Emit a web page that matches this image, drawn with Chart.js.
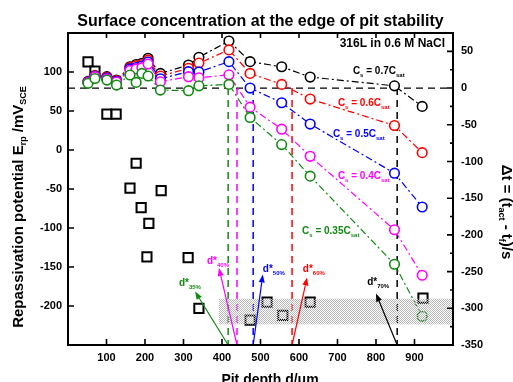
<!DOCTYPE html>
<html>
<head>
<meta charset="UTF-8">
<title>Surface concentration at the edge of pit stability</title>
<style>
  body { margin: 0; background: #fff; }
  #box { width: 513px; height: 382px; }
</style>
<script src="https://cdn.jsdelivr.net/npm/chart.js"></script>
</head>
<body>
<div id="box"><canvas id="c"></canvas></div>
<script>
// pit depth d (um) of the circle series
const depth = [52, 70, 101, 126, 161, 177, 192, 208, 240, 313, 340, 418, 473, 555, 629, 848, 920];
// delta t = t_act - t_f (s), one list per surface concentration
const dt035 = [6.4, 13, 10.9, 4.1, 17.8, 7.7, 20, 16.4, -2.7, -3.6, 3, 5, -40, -77, -120, -240, -311];
const dt040 = [7.5, 15.5, 12.7, 8.2, 24, 26, 27.8, 32.8, 8.6, 15.5, 14, 18, -26, -56, -93, -193, -255];
const dt050 = [8, 16, 13.7, 9.1, 26, 28, 30, 35.5, 12.7, 22.3, 22, 36, 0, -20, -49, -116, -162];
const dt060 = [8.5, 16.5, 14.6, 10, 27.8, 30.5, 32, 38, 16.4, 26.9, 34, 52, 20, 5, -15, -51, -88];
const dt070 = [9, 17, 15.5, 10.9, 29, 32, 33.7, 40.5, 20, 31.4, 42, 64, 36, 29, 15, 3, -25];

// repassivation potential E_rp (mV SCE), squares
const erpDepth = [52, 70, 101, 125, 161, 177, 190, 205, 210, 242, 312, 340, 473, 517, 558, 629, 922];
const erpValue = [113, 101, 46, 46, -49, -17, -74, -137, -94, -52, -138, -203, -218, -195, -212, -195, -190];

// critical depths d* where delta t crosses zero
const dStar = [416, 439, 481, 582, 855];
const pct = ['35%', '40%', '50%', '60%', '70%'];
const csRatio = ['0.35', '0.4', '0.5', '0.6', '0.7'];
const colors = ['#108a10', '#ff00ff', '#0000ff', '#ff0000', '#000000'];

// annotation anchors in data units (d, delta t)
const csPos = [[608, -199], [701, -124], [688, -66], [701, -25], [740, 19]];
const arrowTip = [[330, -277], [392, -245], [506, -254], [621, -258], [800, -280]];
const starPos = [[288, -269], [361, -239], [506, -250], [610, -251], [777, -268]];
const hatchBox = { d0: 392, d1: 1000, t0: -287, t1: -322 };

const xTicks = [0, 100, 200, 300, 400, 500, 600, 700, 800, 900, 1000];
const yTicks = [-250, -200, -150, -100, -50, 0, 50, 100, 150];
const y2Ticks = [-350, -300, -250, -200, -150, -100, -50, 0, 50];

const FONT = '"Liberation Sans", Arial, sans-serif';
const series = [dt035, dt040, dt050, dt060, dt070];

function rich(ctx, parts, x, y, size, align) {
  let w = 0;
  parts.forEach(([t, s]) => {
    ctx.font = 'bold ' + (s ? Math.round(size * 0.6) : size) + 'px ' + FONT;
    w += ctx.measureText(t).width;
  });
  let cx = align === 'center' ? x - w / 2 : x;
  parts.forEach(([t, s]) => {
    ctx.font = 'bold ' + (s ? Math.round(size * 0.6) : size) + 'px ' + FONT;
    ctx.fillText(t, cx, y + (s ? size * 0.3 : 0));
    cx += ctx.measureText(t).width;
  });
}

function arrow(ctx, x1, y1, x2, y2, color) {
  ctx.strokeStyle = color; ctx.fillStyle = color; ctx.lineWidth = 1.2; ctx.setLineDash([]);
  const ang = Math.atan2(y2 - y1, x2 - x1);
  const hl = 8, hw = 3;
  const bx = x2 - hl * Math.cos(ang), by = y2 - hl * Math.sin(ang);
  ctx.beginPath(); ctx.moveTo(x1, y1); ctx.lineTo(bx, by); ctx.stroke();
  ctx.beginPath(); ctx.moveTo(x2, y2);
  ctx.lineTo(bx + hw * Math.sin(ang), by - hw * Math.cos(ang));
  ctx.lineTo(bx - hw * Math.sin(ang), by + hw * Math.cos(ang));
  ctx.closePath(); ctx.fill();
}

// checker for the shaded band: half the pixels grey, half left see-through
const pc = document.createElement('canvas');
pc.width = 2; pc.height = 2;
const pctx = pc.getContext('2d');
pctx.fillStyle = '#b8b8b8';
pctx.fillRect(0, 0, 1, 1); pctx.fillRect(1, 1, 1, 1);

const extras = {
  id: 'extras',
  afterDatasetsDraw(chart) {
    const { ctx, chartArea: a, scales } = chart;
    const X = v => scales.x.getPixelForValue(v);
    const Y = v => scales.y.getPixelForValue(v);
    const Y2 = v => scales.y2.getPixelForValue(v);
    ctx.save();

    // shaded band, drawn over the marks
    ctx.fillStyle = ctx.createPattern(pc, 'repeat');
    const hx = X(hatchBox.d0), hy = Y2(hatchBox.t0);
    ctx.fillRect(hx, hy, Math.min(X(hatchBox.d1), a.right) - hx, Y2(hatchBox.t1) - hy);

    // arrows and d* labels
    ctx.textAlign = 'left'; ctx.textBaseline = 'alphabetic';
    dStar.forEach((d, i) => {
      arrow(ctx, X(d), a.bottom, X(arrowTip[i][0]), Y2(arrowTip[i][1]), colors[i]);
      ctx.fillStyle = colors[i];
      rich(ctx, [['d*', false], [pct[i], true]], X(starPos[i][0]), Y2(starPos[i][1]), 10, 'left');
    });

    // Cs labels
    csRatio.forEach((r, i) => {
      ctx.fillStyle = colors[i];
      rich(ctx, [['C', false], ['s', true], [' = ' + r + 'C', false], ['sat', true]],
        X(csPos[i][0]), Y2(csPos[i][1]), 10, 'left');
    });

    // frame
    ctx.strokeStyle = '#000'; ctx.lineWidth = 2; ctx.setLineDash([]);
    ctx.strokeRect(a.left, a.top, a.right - a.left, a.bottom - a.top);
    ctx.lineWidth = 1.6;
    ctx.beginPath();
    xTicks.slice(1, -1).forEach(v => {
      ctx.moveTo(X(v), a.bottom); ctx.lineTo(X(v), a.bottom - 6);
      ctx.moveTo(X(v), a.top); ctx.lineTo(X(v), a.top + 5);
    });
    yTicks.slice(1, -1).forEach(v => { ctx.moveTo(a.left, Y(v)); ctx.lineTo(a.left + 6, Y(v)); });
    y2Ticks.slice(1).forEach(v => { ctx.moveTo(a.right, Y2(v)); ctx.lineTo(a.right - 6, Y2(v)); });
    y2Ticks.forEach(v => { ctx.moveTo(a.right, Y2(v + 25)); ctx.lineTo(a.right - 3, Y2(v + 25)); });
    ctx.stroke();

    // title and axis titles
    ctx.fillStyle = '#000';
    ctx.textAlign = 'center'; ctx.textBaseline = 'middle';
    ctx.font = 'bold 16px ' + FONT;
    ctx.fillText('Surface concentration at the edge of pit stability', (a.left + a.right) / 2, 22);
    ctx.textAlign = 'right'; ctx.textBaseline = 'alphabetic';
    ctx.font = 'bold 12px ' + FONT;
    ctx.fillText('316L in 0.6 M NaCl', a.right - 8, 47);

    ctx.textAlign = 'left';
    rich(ctx, [['Pit depth d/\u03bcm', false]], 270, 384, 14, 'center');

    ctx.save();
    ctx.translate(19, 207); ctx.rotate(-Math.PI / 2);
    ctx.textBaseline = 'middle';
    rich(ctx, [['Repassivation potential E', false], ['rp', true], [' /mV', false], ['SCE', true]], 0, 0, 15, 'center');
    ctx.restore();

    ctx.save();
    ctx.translate(506, 212); ctx.rotate(Math.PI / 2);
    ctx.textBaseline = 'middle';
    rich(ctx, [['\u0394t = (t', false], ['act', true], [' - t', false], ['f', true], [')/s', false]], 0, 0, 15, 'center');
    ctx.restore();

    ctx.restore();
  }
};

const datasets = [];
series.forEach((s, i) => {
  datasets.push({
    data: depth.map((d, k) => ({ x: d, y: s[k] })),
    yAxisID: 'y2',
    borderColor: colors[i],
    borderWidth: 1.2,
    borderDash: [7, 3, 2, 3],
    pointStyle: 'circle',
    pointRadius: 4.8,
    pointBorderWidth: 1.6,
    pointBackgroundColor: '#fff',
    pointBorderColor: colors[i]
  });
});
datasets.push({
  data: erpDepth.map((d, k) => ({ x: d, y: erpValue[k] })),
  yAxisID: 'y',
  showLine: false,
  pointStyle: 'rect',
  pointRadius: 6.5,
  pointBorderWidth: 2,
  pointBackgroundColor: '#fff',
  pointBorderColor: '#000'
});
datasets.push({
  data: [{ x: 0, y: 0 }, { x: 1000, y: 0 }],
  yAxisID: 'y2',
  borderColor: '#000', borderWidth: 1.2, borderDash: [7, 5], pointRadius: 0
});
dStar.forEach((d, i) => {
  datasets.push({
    data: [{ x: d, y: 0 }, { x: d, y: -350 }],
    yAxisID: 'y2',
    borderColor: colors[i], borderWidth: 1.5, borderDash: [7, 5], pointRadius: 0
  });
});

const tickFont = { family: FONT, size: 11, weight: 'bold' };
const setTicks = vals => scale => { scale.ticks = vals.map(v => ({ value: v })); };

new Chart(document.getElementById('c'), {
  type: 'line',
  data: { datasets },
  options: {
    responsive: true,
    maintainAspectRatio: false,
    animation: false,
    layout: { padding: { top: 33, left: 0, right: 0, bottom: 0 } },
    plugins: { legend: { display: false }, tooltip: { enabled: false }, title: { display: false } },
    scales: {
      x: {
        type: 'linear', min: 0, max: 1000,
        afterBuildTicks: setTicks(xTicks),
        afterFit: s => { s.height = 37; },
        grid: { display: false, drawTicks: false },
        border: { display: false },
        ticks: { font: tickFont, color: '#000', padding: 6,
          callback: v => (v > 0 && v < 1000 ? v : '') }
      },
      y: {
        type: 'linear', position: 'left', min: -250, max: 150,
        afterBuildTicks: setTicks(yTicks),
        afterFit: s => { s.width = 68; },
        grid: { display: false, drawTicks: false },
        border: { display: false },
        ticks: { font: tickFont, color: '#000', padding: 6,
          callback: v => (v > -250 && v < 150 ? v : '') }
      },
      y2: {
        type: 'linear', position: 'right', min: -350, max: 75,
        afterBuildTicks: setTicks(y2Ticks),
        afterFit: s => { s.width = 60; },
        grid: { display: false, drawTicks: false },
        border: { display: false },
        ticks: { font: tickFont, color: '#000', padding: 8 }
      }
    }
  },
  plugins: [extras]
});
</script>
</body>
</html>
